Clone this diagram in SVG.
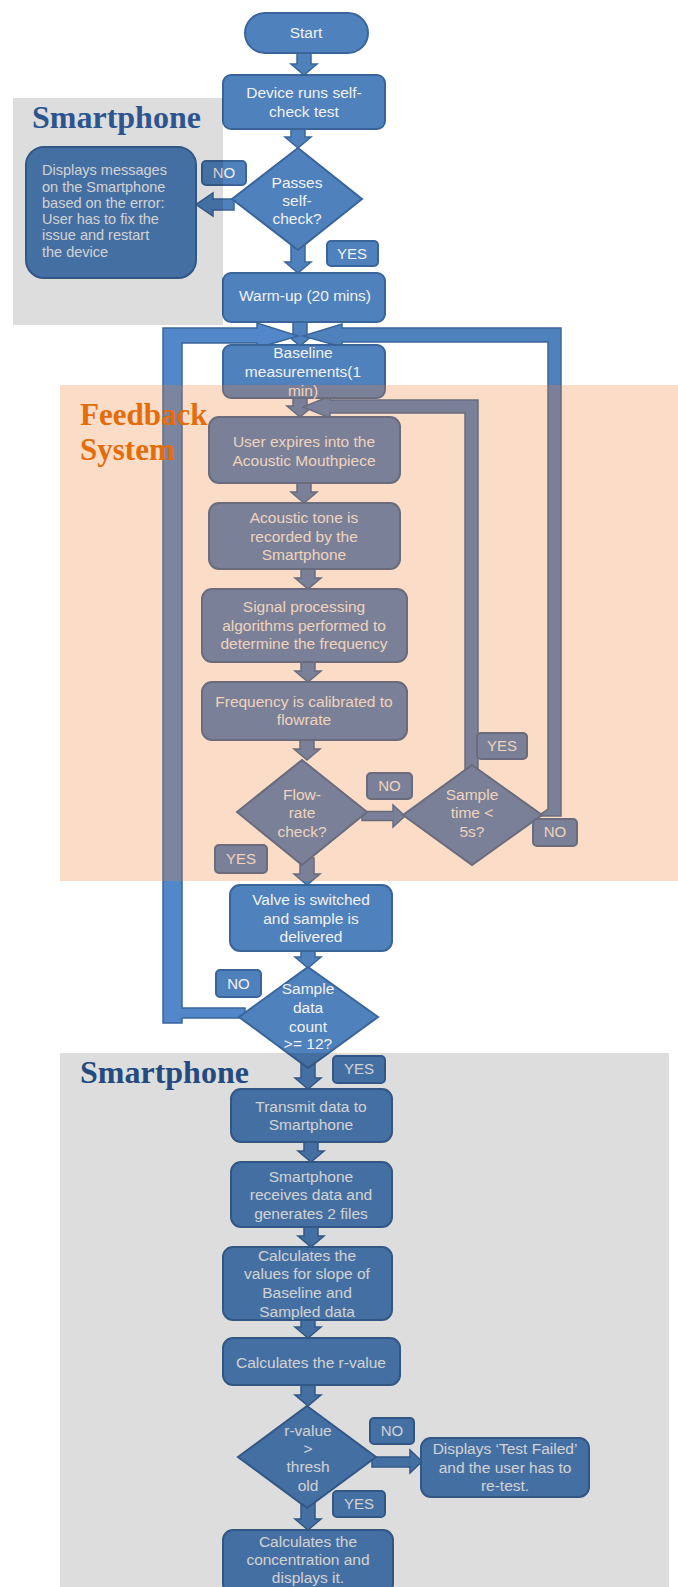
<svg xmlns="http://www.w3.org/2000/svg" width="678" height="1587" viewBox="0 0 678 1587">
<style>
.box{fill:#4f81bd;stroke:#3a659a;stroke-width:2}
.conn{fill:#4f81bd;stroke:#3a659a;stroke-width:1.5}
.loop{fill:#5288c9;stroke:#3a659a;stroke-width:1.5}
.t{font-family:"Liberation Sans",Arial,sans-serif;font-size:15.5px;fill:#f2f2f2;text-anchor:middle}
.s{font-size:15px}
.tl{font-family:"Liberation Sans",Arial,sans-serif;font-size:14.5px;fill:#f2f2f2}
.reg{font-family:"Liberation Serif","Times New Roman",serif;font-weight:bold}
</style>
<rect x="0" y="0" width="678" height="1587" fill="#ffffff"/>
<g id="connectors">
<path class="conn" d="M297,52 L311,52 L311,64 L317,64 L304,75 L291,64 L297,64 Z"/>
<path class="conn" d="M291,127 L305,127 L305,137 L311,137 L298,148 L285,137 L291,137 Z"/>
<path class="conn" d="M291,244 L305,244 L305,262 L311,262 L298,273 L285,262 L291,262 Z"/>
<path class="conn" d="M234,199 L213,199 L213,193 L196,204.5 L213,216 L213,210 L234,210 Z"/>
<path class="conn" d="M293,320 L307,320 L307,335 L313,335 L300,346 L287,335 L293,335 Z"/>
<path class="conn" d="M293,396 L307,396 L307,406 L313,406 L300,417 L287,406 L293,406 Z"/>
<path class="conn" d="M297,481 L311,481 L311,492 L317,492 L304,503 L291,492 L297,492 Z"/>
<path class="conn" d="M301,567 L315,567 L315,578 L321,578 L308,589 L295,578 L301,578 Z"/>
<path class="conn" d="M301,660 L315,660 L315,671 L321,671 L308,682 L295,671 L301,671 Z"/>
<path class="conn" d="M300,738 L314,738 L314,749 L320,749 L307,760 L294,749 L300,749 Z"/>
<path class="conn" d="M300,858 L314,858 L314,874 L320,874 L307,885 L294,874 L300,874 Z"/>
<path class="conn" d="M362,811.5 L393,811.5 L393,805 L405,816 L393,827 L393,820.5 L362,820.5 Z"/>
<path class="conn" d="M301,949 L315,949 L315,957 L321,957 L308,968 L295,957 L301,957 Z"/>
<path class="conn" d="M301,1062 L315,1062 L315,1078 L321,1078 L308,1089 L295,1078 L301,1078 Z"/>
<path class="conn" d="M304,1140 L318,1140 L318,1151 L324,1151 L311,1162 L298,1151 L304,1151 Z"/>
<path class="conn" d="M304,1225 L318,1225 L318,1236 L324,1236 L311,1247 L298,1236 L304,1236 Z"/>
<path class="conn" d="M301,1318 L315,1318 L315,1327 L321,1327 L308,1338 L295,1327 L301,1327 Z"/>
<path class="conn" d="M301,1383 L315,1383 L315,1395 L321,1395 L308,1406 L295,1395 L301,1395 Z"/>
<path class="conn" d="M372,1457 L410,1457 L410,1450 L422,1461.5 L410,1473 L410,1467 L372,1467 Z"/>
<path class="conn" d="M301,1502 L315,1502 L315,1519 L321,1519 L308,1530 L295,1519 L301,1519 Z"/>
<path class="loop" d="M245,1008 L182,1008 L182,343 L257,343 L257,348 L298,336 L257,323 L257,328 L163,328 L163,1023 L182,1023 L182,1018 L245,1018 Z"/>
<path class="conn" d="M561,816 L561,328 L342,328 L342,324 L303,336 L342,347 L342,342 L548,342 L548,809 L538,816 Z"/>
<path class="conn" d="M465,772 L465,413 L330,413 L330,418 L303,407 L330,396 L330,400 L478,400 L478,772 Z"/>
</g>
<g id="start"><rect class="box" x="245" y="13" width="123" height="40" rx="20"/><text class="t" x="306" y="38">Start</text></g>
<g id="selfcheck"><rect class="box" x="223" y="75" width="162" height="54" rx="8"/><text class="t" x="304" y="98">Device runs self-</text><text class="t" x="304" y="117">check test</text></g>
<g id="passes"><polygon class="box" points="298,148 362,199 298,250 232,199"/><text class="t" x="297" y="188">Passes</text><text class="t" x="297" y="206">self-</text><text class="t" x="297" y="224">check?</text></g>
<g id="error"><rect class="box" x="26" y="147" width="170" height="131" rx="18"/><text class="tl" x="42" y="175">Displays messages</text><text class="tl" x="42" y="192">on the Smartphone</text><text class="tl" x="42" y="208">based on the error:</text><text class="tl" x="42" y="224">User has to fix the</text><text class="tl" x="42" y="240">issue and restart</text><text class="tl" x="42" y="257">the device</text></g>
<g id="no1"><rect class="box" x="202" y="161" width="44" height="24" rx="4"/><text class="t s" x="224" y="178">NO</text></g>
<g id="yes1"><rect class="box" x="327" y="241" width="51" height="25" rx="4"/><text class="t s" x="352" y="259">YES</text></g>
<g id="warmup"><rect class="box" x="223" y="273" width="162" height="49" rx="8"/><text class="t" x="305" y="301">Warm-up (20 mins)</text></g>
<g id="baseline"><rect class="box" x="223" y="345" width="162" height="53" rx="8"/><text class="t" x="303" y="358">Baseline</text><text class="t" x="303" y="377">measurements(1</text><text class="t" x="303" y="396">min)</text></g>
<g id="expire"><rect class="box" x="209" y="417" width="191" height="66" rx="10"/><text class="t" x="304" y="447">User expires into the</text><text class="t" x="304" y="466">Acoustic Mouthpiece</text></g>
<g id="acoustic"><rect class="box" x="209" y="503" width="191" height="66" rx="10"/><text class="t" x="304" y="523">Acoustic tone is</text><text class="t" x="304" y="542">recorded by the</text><text class="t" x="304" y="560">Smartphone</text></g>
<g id="signal"><rect class="box" x="202" y="589" width="205" height="73" rx="10"/><text class="t" x="304" y="612">Signal processing</text><text class="t" x="304" y="631">algorithms performed to</text><text class="t" x="304" y="649">determine the frequency</text></g>
<g id="frequency"><rect class="box" x="202" y="682" width="205" height="58" rx="10"/><text class="t" x="304" y="707">Frequency is calibrated to</text><text class="t" x="304" y="725">flowrate</text></g>
<g id="flowrate"><polygon class="box" points="302,760 367,812 302,865 237,812"/><text class="t" x="302" y="800">Flow-</text><text class="t" x="302" y="818">rate</text><text class="t" x="302" y="837">check?</text></g>
<g id="no2"><rect class="box" x="367" y="773" width="45" height="26" rx="4"/><text class="t s" x="389.5" y="791">NO</text></g>
<g id="sampletime"><polygon class="box" points="472,765 542,815 472,865 403,815"/><text class="t" x="472" y="800">Sample</text><text class="t" x="472" y="818">time &lt;</text><text class="t" x="472" y="837">5s?</text></g>
<g id="yes2"><rect class="box" x="477" y="733" width="50" height="26" rx="4"/><text class="t s" x="502" y="751">YES</text></g>
<g id="no3"><rect class="box" x="533" y="819" width="44" height="27" rx="4"/><text class="t s" x="555" y="837">NO</text></g>
<g id="yes3"><rect class="box" x="215" y="845" width="52" height="28" rx="4"/><text class="t s" x="241" y="864">YES</text></g>
<g id="valve"><rect class="box" x="230" y="885" width="162" height="66" rx="10"/><text class="t" x="311" y="905">Valve is switched</text><text class="t" x="311" y="924">and sample is</text><text class="t" x="311" y="942">delivered</text></g>
<g id="count"><polygon class="box" points="308,967 378,1017 308,1068 239,1017"/><text class="t" x="308" y="994">Sample</text><text class="t" x="308" y="1013">data</text><text class="t" x="308" y="1032">count</text><text class="t" x="308" y="1049">&gt;= 12?</text></g>
<g id="no4"><rect class="box" x="216" y="970" width="45" height="27" rx="4"/><text class="t s" x="238.5" y="989">NO</text></g>
<g id="yes4"><rect class="box" x="333" y="1056" width="52" height="27" rx="4"/><text class="t s" x="359" y="1074">YES</text></g>
<g id="transmit"><rect class="box" x="231" y="1089" width="161" height="53" rx="10"/><text class="t" x="311" y="1112">Transmit data to</text><text class="t" x="311" y="1130">Smartphone</text></g>
<g id="receives"><rect class="box" x="231" y="1162" width="161" height="65" rx="10"/><text class="t" x="311" y="1182">Smartphone</text><text class="t" x="311" y="1200">receives data and</text><text class="t" x="311" y="1219">generates 2 files</text></g>
<g id="slope"><rect class="box" x="223" y="1247" width="169" height="73" rx="10"/><text class="t" x="307" y="1261">Calculates the</text><text class="t" x="307" y="1279">values for slope of</text><text class="t" x="307" y="1298">Baseline and</text><text class="t" x="307" y="1317">Sampled data</text></g>
<g id="rvalue"><rect class="box" x="223" y="1338" width="177" height="47" rx="10"/><text class="t" x="311" y="1368">Calculates the r-value</text></g>
<g id="threshold"><polygon class="box" points="307,1406 376,1457 307,1508 238,1457"/><text class="t" x="308" y="1436">r-value</text><text class="t" x="308" y="1454">&gt;</text><text class="t" x="308" y="1472">thresh</text><text class="t" x="308" y="1491">old</text></g>
<g id="no5"><rect class="box" x="370" y="1418" width="44" height="26" rx="4"/><text class="t s" x="392" y="1436">NO</text></g>
<g id="failed"><rect class="box" x="421" y="1438" width="168" height="59" rx="10"/><text class="t" x="505" y="1454">Displays ‘Test Failed’</text><text class="t" x="505" y="1473">and the user has to</text><text class="t" x="505" y="1491">re-test.</text></g>
<g id="yes5"><rect class="box" x="333" y="1491" width="52" height="26" rx="4"/><text class="t s" x="359" y="1509">YES</text></g>
<g id="concentration"><rect class="box" x="223" y="1530" width="170" height="64" rx="10"/><text class="t" x="308" y="1547">Calculates the</text><text class="t" x="308" y="1565">concentration and</text><text class="t" x="308" y="1583">displays it.</text></g>
<g id="regions">
<rect x="13" y="98" width="210" height="227" fill="#000000" fill-opacity="0.135"/>
<rect x="60" y="385" width="618" height="496" fill="#ED7D31" fill-opacity="0.27"/>
<rect x="60" y="1053" width="609" height="534" fill="#000000" fill-opacity="0.135"/>
<text class="reg" x="32" y="128" font-size="32" fill="#2c5590">Smartphone</text>
<text class="reg" x="80" y="425" font-size="31" fill="#e46c0a">Feedback</text>
<text class="reg" x="80" y="460" font-size="31" fill="#e46c0a">System</text>
<text class="reg" x="80" y="1083" font-size="32" fill="#234b80">Smartphone</text>
</g>
</svg>
